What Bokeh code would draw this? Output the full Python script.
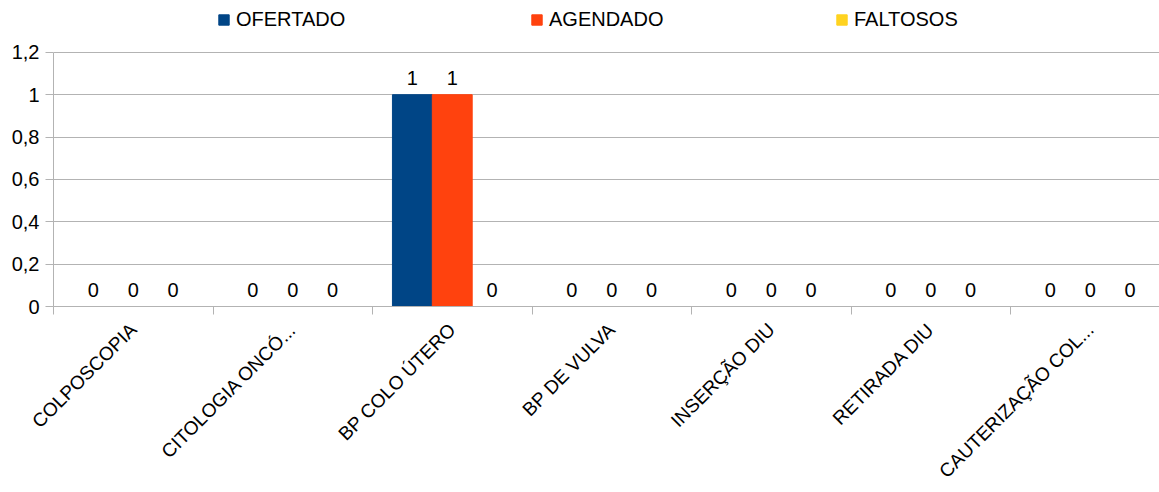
import math
from bokeh.plotting import figure
from bokeh.models import Range1d, FixedTicker, ColumnDataSource, Legend, LegendItem
from bokeh.core.properties import value
from bokeh.embed import file_html
from bokeh.resources import INLINE

categories = ["COLPOSCOPIA", "CITOLOGIA ONCÓ...", "BP COLO ÚTERO", "BP DE VULVA",
              "INSERÇÃO DIU", "RETIRADA DIU", "CAUTERIZAÇÃO COL..."]
series_names = ["OFERTADO", "AGENDADO", "FALTOSOS"]
ofertado = [0, 0, 1, 0, 0, 0, 0]
agendado = [0, 0, 1, 0, 0, 0, 0]
faltosos = [0, 0, 0, 0, 0, 0, 0]
colors = ["#004586", "#ff420e", "#ffd320"]
y_ticks = [0, 0.2, 0.4, 0.6, 0.8, 1, 1.2]
y_tick_labels = ["0", "0,2", "0,4", "0,6", "0,8", "1", "1,2"]

FONT = "Liberation Sans"
GRID = "#b3b3b3"
n = len(categories)
bar_w = 0.25

# frame spans from page top to the x axis; the value axis ends at 1.2 (52 px below top)
frame_h = 307
axis_h = 255
y_top = 1.2 * frame_h / axis_h

p = figure(width=1159, height=492, output_backend="svg", toolbar_location=None,
           x_range=Range1d(0, 6.934), y_range=Range1d(0, y_top),
           min_border_left=53, min_border_right=0, min_border_top=0, min_border_bottom=185)
p.outline_line_color = None
p.xgrid.visible = False
p.ygrid.grid_line_color = GRID
p.ygrid.ticker = FixedTicker(ticks=y_ticks)

legend_x = [164, 477, 782]  # screen offsets of each legend entry from the frame's left
for k, (name, vals, col) in enumerate(zip(series_names, [ofertado, agendado, faltosos], colors)):
    xs = [i + bar_w * (k + 1) for i in range(n)]
    src = ColumnDataSource(dict(x=xs, top=vals, label=[str(v) for v in vals]))
    r = p.vbar(x="x", top="top", bottom=0, width=bar_w, source=src,
               fill_color=col, line_color=col, line_width=1)
    p.text(x="x", y="top", text="label", source=src, text_align="center",
           text_baseline="bottom", y_offset=-10, text_font=value(FONT),
           text_font_size="20px", text_color="#000000")
    lg = Legend(items=[LegendItem(label=name, renderers=[r])], orientation="horizontal",
                location=(legend_x[k], 275), glyph_width=13, glyph_height=13, label_standoff=6,
                border_line_color=None, background_fill_alpha=0, padding=0, margin=0,
                label_text_font=FONT, label_text_font_size="20px", label_text_color="#000000")
    p.add_layout(lg)

# x axis
xa = p.xaxis[0]
xa.ticker = FixedTicker(ticks=[i + 0.5 for i in range(n)], minor_ticks=list(range(n + 1)))
xa.major_label_overrides = {i + 0.5: c for i, c in enumerate(categories)}
xa.major_label_orientation = math.pi / 4
xa.major_tick_out = 0
xa.major_tick_in = 0
xa.minor_tick_out = 8
xa.minor_tick_in = 0
xa.minor_tick_line_color = GRID
xa.axis_line_color = GRID
xa.major_label_standoff = 12
xa.major_label_text_font = FONT
xa.major_label_text_font_size = "19px"
xa.major_label_text_color = "#000000"

# y axis
ya = p.yaxis[0]
ya.ticker = FixedTicker(ticks=y_ticks)
ya.bounds = (0, 1.2)
ya.major_label_overrides = {t: l for t, l in zip(y_ticks, y_tick_labels)}
ya.major_tick_out = 8
ya.major_tick_in = 0
ya.minor_tick_out = 0
ya.minor_tick_in = 0
ya.major_tick_line_color = GRID
ya.axis_line_color = GRID
ya.major_label_standoff = 6
ya.major_label_text_font = FONT
ya.major_label_text_font_size = "20px"
ya.major_label_text_color = "#000000"

open("out.html", "w").write(file_html(p, INLINE))
